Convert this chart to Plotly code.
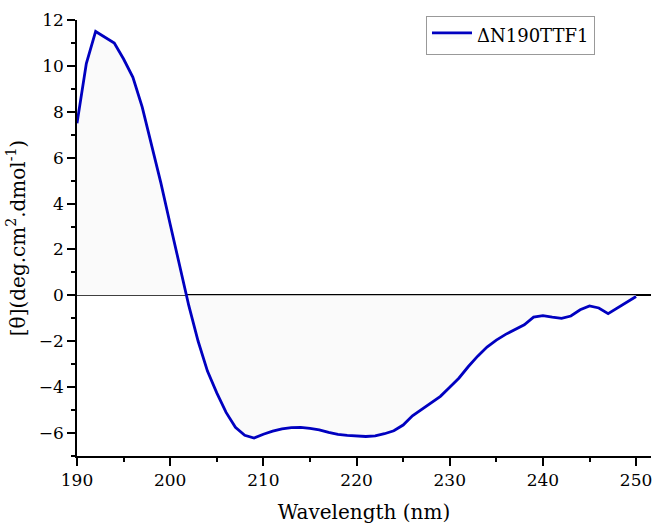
import plotly.graph_objects as go

wavelength = list(range(190, 251))
theta = [7.5, 10.1, 11.5, 11.25, 11.0, 10.3, 9.5, 8.2, 6.6, 4.9,
         3.1, 1.3, -0.45, -2.0, -3.3, -4.25, -5.1, -5.75, -6.1, -6.22,
         -6.05, -5.92, -5.82, -5.76, -5.75, -5.8, -5.86, -5.97, -6.06, -6.1,
         -6.13, -6.15, -6.12, -6.03, -5.9, -5.65, -5.25, -4.97, -4.7, -4.4,
         -4.0, -3.6, -3.1, -2.65, -2.25, -1.95, -1.7, -1.48, -1.28, -0.95,
         -0.88, -0.95, -1.0, -0.9, -0.63, -0.46, -0.55, -0.8, -0.55, -0.33,
         -0.05]
series_name = "ΔN190TTF1"

FONT = "DejaVu Serif"

fig = go.Figure()
fig.add_trace(go.Scatter(
    x=wavelength, y=theta, mode="lines", name=series_name,
    line=dict(color="#0000C0", width=2.8),
    fill="tozeroy", fillcolor="#fafafa",
))

fig.update_layout(
    width=654, height=524,
    margin=dict(l=77, r=3, t=20, b=68),
    paper_bgcolor="white", plot_bgcolor="white",
    font=dict(family=FONT, size=17, color="black"),
    showlegend=True,
    legend=dict(
        x=0.608, y=1.01, xanchor="left", yanchor="top",
        bgcolor="white", bordercolor="#999999", borderwidth=1,
        font=dict(family=FONT, size=18, color="black"),
        itemwidth=40,
        tracegroupgap=0,
    ),
)

fig.update_xaxes(
    range=[190, 251.6], showgrid=False, zeroline=False,
    showline=True, linecolor="black", linewidth=1.5,
    ticks="outside", ticklen=8, tickwidth=1.5, tickcolor="black",
    tick0=190, dtick=10,
    minor=dict(ticks="outside", ticklen=4, tickwidth=1.5, tickcolor="black", dtick=5),
    title=dict(text="Wavelength (nm)", font=dict(family=FONT, size=20), standoff=16),
    tickfont=dict(family=FONT, size=17),
)
fig.update_yaxes(
    range=[-7, 12], showgrid=False,
    zeroline=True, zerolinecolor="black", zerolinewidth=1.5,
    showline=True, linecolor="black", linewidth=1.5,
    ticks="outside", ticklen=8, tickwidth=1.5, tickcolor="black",
    tick0=0, dtick=2,
    minor=dict(ticks="outside", ticklen=4, tickwidth=1.5, tickcolor="black", dtick=1),
    title=dict(text="[θ](deg.cm<sup>2</sup>.dmol<sup>-1</sup>)", font=dict(family=FONT, size=20), standoff=8),
    tickfont=dict(family=FONT, size=17),
)

fig.write_html("out.html")
